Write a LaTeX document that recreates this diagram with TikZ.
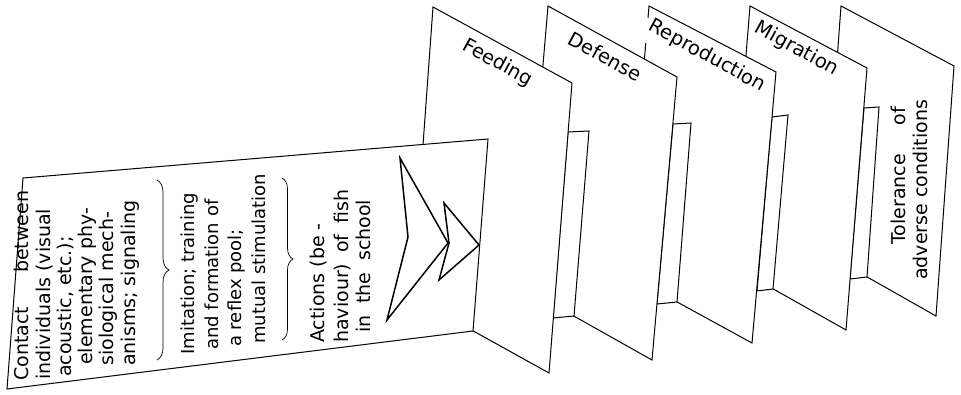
\documentclass[tikz,border=0pt]{standalone}
\usepackage{fontspec}
\setmainfont{DejaVu Sans}
\usetikzlibrary{decorations.pathreplacing}
\newcommand\jline[2]{\makebox[#1pt][s]{#2}}
\begin{document}
\begin{tikzpicture}[x=1pt,y=-1pt,
  panel/.style={draw=black,fill=white,line width=1pt,line join=miter},
  chev/.style={draw=black,line width=1.5pt,line join=miter},
  tnine/.style={font=\fontsize{19}{22}\selectfont,inner sep=0pt,anchor=base west,rotate=90},
  teight/.style={font=\fontsize{18}{21}\selectfont,inner sep=0pt,anchor=base west,rotate=90},
  head/.style={font=\fontsize{19.5}{23}\selectfont,inner sep=0pt,anchor=base,rotate=-28.6},
  brc/.style={draw=black,line width=0.7pt,decorate,decoration={brace,amplitude=#1}}]
\useasboundingbox (0,0) rectangle (961,395);
% corner points
\coordinate (T1) at (841,6);   \coordinate (T2) at (954,66);
\coordinate (T3) at (936,316); \coordinate (T4) at (823,252);
\coordinate (M1) at (750,6);   \coordinate (M2) at (867,68);
\coordinate (M3) at (846,330); \coordinate (M4) at (729,264);
\coordinate (R1) at (649,6);   \coordinate (R2) at (776,72);
\coordinate (R3) at (752,343); \coordinate (R4) at (626,274);
\coordinate (Ra) at (648,18);  \coordinate (Rb) at (645.8,43);
\coordinate (D1) at (548,6);   \coordinate (D2) at (677,77);
\coordinate (D3) at (652,360); \coordinate (D4) at (524,288);
\coordinate (F1) at (433,7);   \coordinate (F2) at (572,83);
\coordinate (F3) at (549,373); \coordinate (F4) at (412,297);
\coordinate (L1) at (23,178);  \coordinate (L2) at (488,139);
\coordinate (L3) at (473,331); \coordinate (L4) at (7,389);
% connectors
\coordinate (mt1) at (864,108); \coordinate (mt2) at (879,107);
\coordinate (mt3) at (867,277); \coordinate (mt4) at (850,279);
\coordinate (rm1) at (772,117); \coordinate (rm2) at (788,115);
\coordinate (rm3) at (773,289); \coordinate (rm4) at (757,291);
\coordinate (dr1) at (673,124); \coordinate (dr2) at (691,123);
\coordinate (dr3) at (677,302); \coordinate (dr4) at (657,304);
\coordinate (fd1) at (568,132); \coordinate (fd2) at (589,131);
\coordinate (fd3) at (574,316); \coordinate (fd4) at (553,318);
% panels, back to front
\draw[panel] (T1) -- (T2) -- (T3) -- (T4) -- cycle;
\draw[panel] (mt1) -- (mt2) -- (mt3) -- (mt4) -- cycle;
\draw[panel] (M1) -- (M2) -- (M3) -- (M4) -- cycle;
\draw[panel] (rm1) -- (rm2) -- (rm3) -- (rm4) -- cycle;
\fill[white] (R1) -- (R2) -- (R3) -- (R4) -- cycle;
\draw[line width=1pt,line join=miter] (Rb) -- (R4) -- (R3) -- (R2) -- (R1) -- (Ra);
\draw[panel] (dr1) -- (dr2) -- (dr3) -- (dr4) -- cycle;
\draw[panel] (D1) -- (D2) -- (D3) -- (D4) -- cycle;
\draw[panel] (fd1) -- (fd2) -- (fd3) -- (fd4) -- cycle;
\draw[panel] (F1) -- (F2) -- (F3) -- (F4) -- cycle;
\draw[panel] (L1) -- (L2) -- (L3) -- (L4) -- cycle;
% chevrons
\draw[chev] (400,158) -- (448,243) -- (387,320) -- (408,237) -- cycle;
\draw[chev] (444,203) -- (479,245) -- (439,280) -- (449,243) -- cycle;
% braces
\draw[brc=12pt] (157,180) -- (157,360);
\draw[brc=11pt] (282,178) -- (282,340);
% headings
\node[head] (hF) at (495,67.8) {Feeding};
\node[head] (hD) at (602,62.8) {Defense};
\node[head] (hR) at (704.4,60.8) {Reproduction};
\node[head] (hM) at (794,53.8) {Migration};
% column 1
\node[tnine] (c1a) at (28.5,381) {\jline{190}{Contact between}};
\node[tnine] (c1b) at (50,380) {individuals (visual};
\node[tnine] (c1c) at (71,377) {acoustic, etc.);};
\node[tnine] (c1d) at (92,365) {elementary phy-};
\node[tnine] (c1e) at (113.5,366) {siological mech-};
\node[tnine] (c1f) at (135,366) {anisms; signaling};
% column 2
\node[teight] (c2a) at (194,355) {Imitation; training};
\node[teight] (c2b) at (218,350) {and formation of};
\node[teight] (c2c) at (241,347) {a reflex pool;};
\node[teight] (c2d) at (265,344) {mutual stimulation};
% column 3
\node[tnine] (c3a) at (324,343) {Actions (be -};
\node[tnine] (c3b) at (348,343) {\jline{153}{haviour) of fish}};
\node[tnine] (c3c) at (370,333) {\jline{133}{in the school}};
% tolerance
\node[tnine] (ta) at (905,245) {\jline{138}{Tolerance of}};
\node[tnine] (tb) at (927,280) {adverse conditions};
\end{tikzpicture}
\end{document}
